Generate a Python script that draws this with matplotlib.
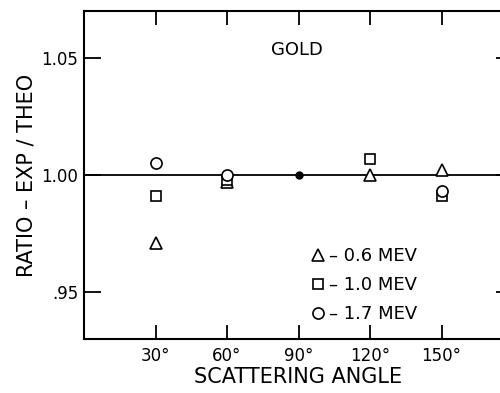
import matplotlib.pyplot as plt

angles = [30, 60, 120, 150]
ratio_06 = [0.971, 0.997, 1.000, 1.002]
ratio_10 = [0.991, 0.998, 1.007, 0.991]
ratio_17 = [1.005, 1.000, None, 0.993]
common_angle = [90]
common_ratio = [1.000]

xticks = [30, 60, 90, 120, 150]
xlabels = ['30°', '60°', '90°', '120°', '150°']
yticks = [0.95, 1.00, 1.05]
ylabels = ['.95', '1.00', '1.05']

plt.rcParams['font.family'] = ['DejaVu Sans']

fig = plt.figure(figsize=(5, 3.93), dpi=100)
ax = fig.add_axes([0.168, 0.137, 0.858, 0.835])

ax.axhline(1.0, color='black', lw=1.3, zorder=1)

mk = dict(linestyle='none', mfc='white', mec='black', mew=1.2, zorder=3)
a17 = [a for a, r in zip(angles, ratio_17) if r is not None]
r17 = [r for r in ratio_17 if r is not None]
ax.plot(angles, ratio_06, marker='^', ms=8, label='– 0.6 MEV', **mk)
ax.plot(angles, ratio_10, marker='s', ms=7, label='– 1.0 MEV', **mk)
ax.plot(a17, r17, marker='o', ms=8, label='– 1.7 MEV', **mk)
ax.plot(common_angle, common_ratio, 'o', color='black', ms=5, zorder=4)

ax.set_xlim(0, 180)
ax.set_ylim(0.93, 1.07)
ax.set_xticks(xticks)
ax.set_xticklabels(xlabels)
ax.set_yticks(yticks)
ax.set_yticklabels(ylabels)
ax.tick_params(axis='x', direction='in', length=10, width=1.3, top=True, labelsize=12, pad=6)
ax.tick_params(axis='y', direction='in', length=12, width=1.3, right=True, labelsize=12, pad=4)
for s in ax.spines.values():
    s.set_linewidth(1.5)

ax.set_xlabel('SCATTERING ANGLE', fontsize=15, labelpad=1)
ax.set_ylabel('RATIO – EXP / THEO', fontsize=15, labelpad=4)

ax.text(0.436, 0.88, 'GOLD', transform=ax.transAxes, fontsize=13, va='center')

ax.legend(loc='lower left', bbox_to_anchor=(0.495, 0.0), frameon=False,
          fontsize=13, handlelength=0.6, handletextpad=0.3, labelspacing=0.6)

fig.savefig('out.png', dpi=100)
